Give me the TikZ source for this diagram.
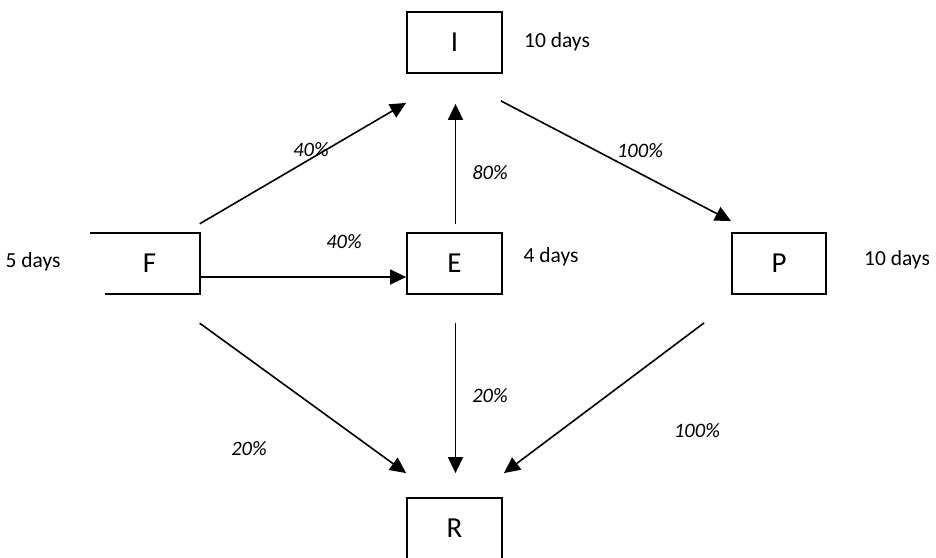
\documentclass[tikz,border=0pt]{standalone}
\usepackage{fontspec}
\setmainfont{Carlito}
\usetikzlibrary{arrows.meta}
\begin{document}
\begin{tikzpicture}[x=1pt,y=-1pt,
  box/.style={draw,line width=1.8pt,minimum width=95pt,minimum height=61pt,inner sep=0pt,font=\fontsize{29}{32}\selectfont},
  nobox/.style={minimum width=100pt,minimum height=61pt,inner sep=0pt,font=\fontsize{29}{32}\selectfont},
  edge/.style={line width=1.8pt},
  arr/.style={line width=1.6pt,-{Triangle[length=16pt,width=15pt]}},
  days/.style={font=\fontsize{21.5}{25}\selectfont},
  pct/.style={font=\fontsize{20.5}{24}\selectfont\itshape}]
\useasboundingbox (0,0) rectangle (936,557);
\node[box] (I) at (454.5,42.5) {I};
\node[box] (E) at (454.5,263.5) {E};
\node[box,minimum width=94pt] (P) at (779,263.5) {P};
\node[box] (R) at (454.5,528.5) {R};
\node[nobox] (F) at (149.5,263.5) {F};
\draw[edge] ([xshift=-9pt]F.north west) -- (F.north east) -- (F.south east) -- ([xshift=6pt]F.south west);
\node[days] (dI) at (557,42) {10 days};
\node[days] (dF) at (33,262) {5 days};
\node[days] (dE) at (551,257) {4 days};
\node[days] (dP) at (897,260) {10 days};
\draw[arr] ([yshift=9pt]F.north east) -- ([yshift=-29pt]I.south west);
\draw[arr] ([yshift=-13.5pt]F.east) -- ([yshift=-13.5pt]E.west);
\draw[arr] ([xshift=1pt,yshift=8pt]E.north) -- ([xshift=1pt,yshift=-30pt]I.south);
\draw[arr] ([xshift=-2pt,yshift=-27pt]I.south east) -- ([yshift=11pt]P.north west);
\draw[arr] ([yshift=-29pt]F.south east) -- ([yshift=24pt]R.north west);
\draw[arr] ([xshift=1pt,yshift=-28pt]E.south) -- ([xshift=1pt,yshift=24pt]R.north);
\draw[arr] ([xshift=-27pt,yshift=-28pt]P.south west) -- ([xshift=1pt,yshift=24pt]R.north east);
\node[pct] (l1) at (311,150) {40\%};
\node[pct] (l2) at (344,242) {40\%};
\node[pct] (l3) at (490,173) {80\%};
\node[pct] (l4) at (640,151) {100\%};
\node[pct] (l5) at (490,396) {20\%};
\node[pct] (l6) at (249,449) {20\%};
\node[pct] (l7) at (697,431) {100\%};
\end{tikzpicture}
\end{document}
